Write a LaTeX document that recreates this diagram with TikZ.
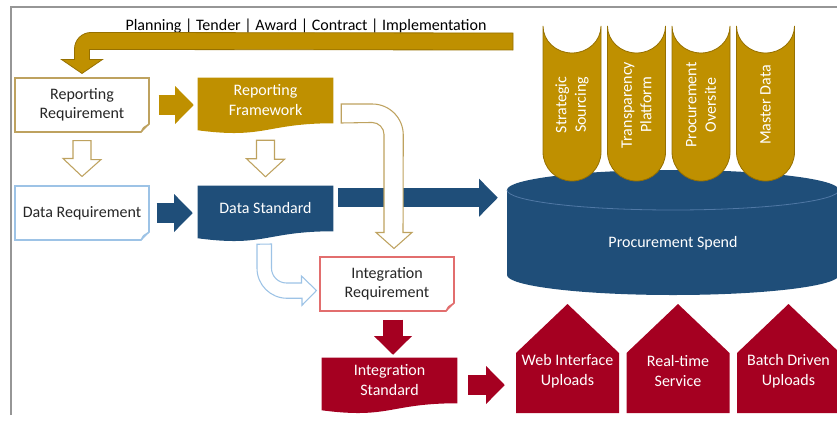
\documentclass[tikz,border=0pt]{standalone}
\usepackage{fontspec}
\setmainfont{Carlito}
\usetikzlibrary{arrows.meta,positioning,calc,backgrounds}

\definecolor{gold}{RGB}{191,144,0}
\definecolor{golddark}{RGB}{150,112,0}
\definecolor{goldline}{RGB}{190,162,95}
\definecolor{spendblue}{RGB}{31,78,121}
\definecolor{spendline}{RGB}{80,120,165}
\definecolor{paleblue}{RGB}{157,195,230}
\definecolor{crimson}{RGB}{165,0,33}
\definecolor{salmon}{RGB}{226,110,110}
\definecolor{framegray}{RGB}{150,150,150}
\definecolor{foldgray}{RGB}{200,200,200}

\begin{document}
\begin{tikzpicture}[x=0.75pt,y=-0.75pt,
  font=\fontsize{12}{14.6}\selectfont,
  notebox/.style={draw=#1, line width=0.8pt, fill=white, text=black!85, align=center,
    minimum width=100.5pt, minimum height=40.5pt, inner sep=0pt},
  docbox/.style={text=white, align=center, minimum width=101.25pt, minimum height=33pt, inner sep=0pt},
  pilltext/.style={text=white, align=center, rotate=90},
  housetext/.style={text=white, align=center, minimum width=77.25pt, inner sep=0pt},
  blockarrow/.style={draw=#1, line width=14.5pt, -{Triangle[width=28.5pt,length=14pt,line width=0pt]}},
  hollow/.style={draw=#1, line width=0.8pt, fill=white, line join=miter},
]
\useasboundingbox (0,0) rectangle (837,421);
\draw[framegray, line width=1.1pt] (11,415) -- (11,7) -- (837,7);

% spend store and the four pillars
\fill[spendblue] (507,190) -- (507,275) arc[start angle=180,end angle=0,x radius=166,y radius=20]
  -- (839,190) arc[start angle=0,end angle=-180,x radius=166,y radius=20] -- cycle;
\draw[spendline, line width=0.6pt] (507,190) arc[start angle=180,end angle=0,x radius=166,y radius=20];
\node[text=white, minimum width=249pt] (spend) at (673,243) {Procurement Spend};

\foreach \nm/\L/\txt in {ss/543/{Strategic\\Sourcing}, tp/607.5/{Transparency\\Platform},
    po/672/{Procurement\\Oversite}, md/736.5/{Master Data}} {
  \filldraw[fill=gold, draw=golddark, line width=0.6pt] (\L,26)
    arc[start angle=180,end angle=0,x radius=29,y radius=27] -- (\L+58,152)
    arc[start angle=0,end angle=180,radius=29] -- cycle;
  \node[pilltext] (\nm) at (\L+29,105) {\txt};
}

% boxes
\node (phases) at (306,26) {Planning | Tender | Award | Contract | Implementation};
\node[notebox=goldline] (rreq) at (82,105) {Reporting\\Requirement};
\node[notebox=paleblue] (dreq) at (82,213) {Data Requirement};
\node[notebox=salmon] (ireq) at (387,284) {Integration\\Requirement};
\node[docbox] (rfw) at (265.5,100) {Reporting\\Framework};
\node[docbox] (dstd) at (265.5,208) {Data Standard};
\node[docbox] (istd) at (389.5,380) {Integration\\Standard};

\begin{scope}[on background layer]
\foreach \n/\c in {rfw/gold, dstd/spendblue, istd/crimson}
  \fill[\c] (\n.north west) -- (\n.north east) -- ($(\n.south east)+(0,1)$)
    .. controls ($(\n.south)+(0,1)$) and ($(\n.south)+(0,17)$) .. ($(\n.south west)+(0,8)$) -- cycle;
\end{scope}

\foreach \n/\c in {rreq/goldline, dreq/paleblue, ireq/salmon} {
  \fill[white] ($(\n.south east)+(-9,1)$) -- ($(\n.south east)+(1,1)$) -- ($(\n.south east)+(1,-9)$) -- cycle;
  \filldraw[fill=foldgray, draw=\c, line width=0.8pt, line join=round] ($(\n.south east)+(-9,0)$)
    -- ($(\n.south east)+(0,-9)$) -- ($(\n.south east)+(-6,-5)$) -- cycle;
}

% outputs
\foreach \nm/\x/\txt in {web/516/{Web Interface\\Uploads}, rts/626.5/{Real-time\\Service},
    bdu/737/{Batch Driven\\Uploads}} {
  \fill[crimson] (\x,413) -- (\x,353) -- (\x+51.5,304) -- (\x+103,353) -- (\x+103,413) -- cycle;
  \node[housetext] (\nm) at (\x+51.5,371) {\txt};
}

% arrows
\coordinate (lifecycle) at (513,33);
\filldraw[fill=gold, draw=golddark, line width=0.6pt] (lifecycle) -- ($(rreq.north)+(9,-45)$)
  arc[start angle=270,end angle=180,radius=16.5] -- ($(rreq.north)+(-7.5,-18)$) -- ++(-13,0)
  -- ($(rreq.north)+(0,-4)$) -- ++(20.5,-14) -- ++(-13,0) -- ($(rreq.north)+(7.5,-28)$)
  -- (lifecycle |- 0,50) -- cycle;

\draw[blockarrow=gold] ($(rreq.east)+(9,0)$) -- ($(rreq.east -| rfw.west)+(-4,0)$);
\draw[blockarrow=spendblue] ($(dreq.east)+(7,0)$) -- ($(dreq.east -| dstd.west)+(-5,0)$);
\draw[blockarrow=spendblue] ($(dstd.north east)+(5,12)$) -- ($(dstd.north east -| spend.west)+(-9,12)$);

\filldraw[hollow=goldline] ($(rreq.south)+(-9,8)$) -- ++(18,0) -- ++(0,19) -- ++(10,0)
  -- ($(dreq.north)+(0,-9)$) -- ++(-19,-18) -- ++(10,0) -- cycle;
\filldraw[hollow=goldline] ($(rfw.south)+(-9,18)$) -- ++(18,0) -- ++(0,19) -- ++(10,0)
  -- ($(dstd.north)+(0,-9)$) -- ++(-19,-18) -- ++(10,0) -- cycle;

\filldraw[hollow=goldline] ($(rfw.east)+(8,4)$) -- ++(31,0) arc[start angle=270,end angle=360,radius=31]
  -- ($(ireq.north)+(16,-24)$) -- ++(9,0) -- ($(ireq.north)+(7,-8)$) -- ++(-18,-16) -- ++(8,0)
  -- ++(0,-98) arc[start angle=0,end angle=-90,radius=12] -- ($(rfw.east)+(8,23)$) -- cycle;

\filldraw[hollow=paleblue] ($(dstd.south)+(-8.5,14)$) -- ++(0,24) arc[start angle=180,end angle=90,radius=30]
  -- ++(15,0) -- ++(0,7) -- ($(ireq.west)+(-3,6.5)$) -- ++(-15,-14.5) -- ++(0,7) -- ++(-15,0)
  arc[start angle=90,end angle=180,radius=15] -- ++(0,-24) -- cycle;

\draw[blockarrow=crimson] ($(ireq.south)+(6,8)$) -- ($(ireq.south |- istd.north)+(6,-3)$);
\draw[blockarrow=crimson] ($(istd.east)+(11,5)$) -- ($(istd.east -| web.west)+(-11,5)$);
\end{tikzpicture}
\end{document}
